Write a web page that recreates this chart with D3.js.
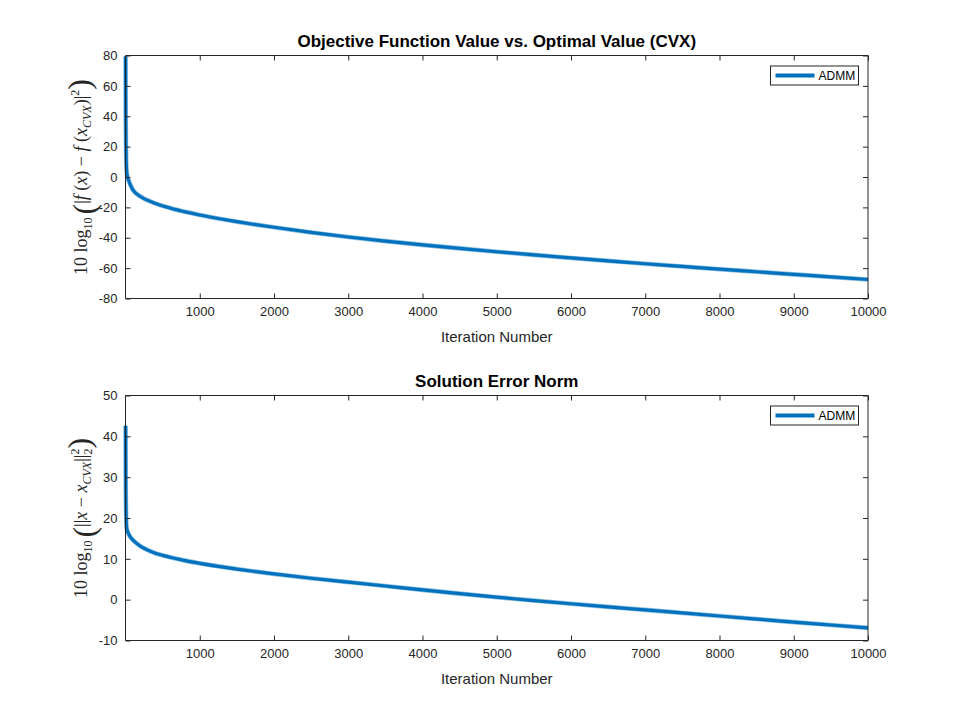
<!DOCTYPE html>
<html><head><meta charset="utf-8">
<script src="https://cdn.jsdelivr.net/npm/d3@7"></script>
<style>body{margin:0;background:#fff}svg{display:block}</style>
</head><body><svg id="c" width="960" height="720"></svg>
<script>
const iterations = [1,2,3,4,6,9,15,25,40,60,100,200,370,600,820,1000,1270,1500,1718,2000,2500,3000,3500,4000,4500,5000,5500,6000,6500,7000,7500,8000,8500,9000,9500,10000];
const objGap = [79.5,60,45,35,22,12,4,0.5,-2.0,-4.6,-8.5,-12.8,-16.8,-20.4,-23.1,-25.0,-27.5,-29.4,-31.1,-33.1,-36.5,-39.5,-42.2,-44.7,-47.0,-49.2,-51.3,-53.3,-55.2,-57.1,-58.9,-60.7,-62.4,-64.1,-65.8,-67.5];
const errIters = [1,2,3,4,6,9,15,30,60,100,200,370,600,820,1000,1270,1500,1718,2000,2500,3000,3500,4000,4500,5000,5500,6000,6500,7000,7500,8000,8500,9000,9500,10000];
const solErr = [42.6,36,31,27,23,20,17.6,16.6,15.5,14.6,13.1,11.6,10.4,9.5,8.9,8.1,7.5,6.95,6.3,5.25,4.3,3.35,2.4,1.48,0.6,-0.22,-1.0,-1.76,-2.5,-3.25,-4.0,-4.75,-5.5,-6.2,-6.9];
const xTicks = [1000,2000,3000,4000,5000,6000,7000,8000,9000,10000];
const yTicksTop = [-80,-60,-40,-20,0,20,40,60,80];
const yTicksBot = [-10,0,10,20,30,40,50];
const titles = ["Objective Function Value vs. Optimal Value (CVX)", "Solution Error Norm"];
const xLabel = "Iteration Number";
const legendLabel = "ADMM";

const svg = d3.select("#c");
const color = "#0072BD";
const L = 125.5, R = 868;
const numFmt = d => String(d);

function panel(top, bottom, yDomain, yTicks, xs, ys, title, ylabelFn) {
  const x = d3.scaleLinear().domain([0, 10000]).range([L, R]);
  const y = d3.scaleLinear().domain(yDomain).range([bottom, top]);
  const g = svg.append("g");
  g.append("rect").attr("x", L).attr("y", top).attr("width", R - L).attr("height", bottom - top).attr("fill", "#fff");
  const data = xs.map((d, i) => [d, ys[i]]);
  const line = d3.line().x(d => x(d[0])).y(d => y(d[1])).curve(d3.curveMonotoneX);
  g.append("path").datum(data).attr("d", line).attr("fill", "none")
    .attr("stroke", "#8fc0e6").attr("stroke-width", 4.6).attr("stroke-linejoin", "round");
  g.append("path").datum(data).attr("d", line).attr("fill", "none")
    .attr("stroke", color).attr("stroke-width", 3.2).attr("stroke-linejoin", "round");
  const ax = g.append("g").attr("transform", `translate(0,${bottom})`)
    .call(d3.axisBottom(x).tickValues(xTicks).tickSize(-5).tickPadding(8).tickFormat(numFmt));
  const axT = g.append("g").attr("transform", `translate(0,${top})`)
    .call(d3.axisTop(x).tickValues(xTicks).tickSize(-5).tickFormat(""));
  const ay = g.append("g").attr("transform", `translate(${L},0)`)
    .call(d3.axisLeft(y).tickValues(yTicks).tickSize(-5).tickPadding(8).tickFormat(numFmt));
  const ayR = g.append("g").attr("transform", `translate(${R},0)`)
    .call(d3.axisRight(y).tickValues(yTicks).tickSize(-5).tickFormat(""));
  [ax, axT, ay, ayR].forEach(a => {
    a.select(".domain").attr("stroke", "#262626").attr("stroke-width", 1);
    a.selectAll(".tick line").attr("stroke", "#262626");
    a.selectAll("text").attr("fill", "#262626").style("font-family", "Liberation Sans, Arial, sans-serif").style("font-size", "13px");
  });
  ax.select(".domain").attr("d", `M${L},0H${R}`);
  axT.select(".domain").attr("d", `M${L},0H${R}`);
  ay.select(".domain").attr("d", `M0,${top}V${bottom}`);
  ayR.select(".domain").attr("d", `M0,${top}V${bottom}`);
  svg.append("text").attr("x", (L + R) / 2).attr("y", top - 9).attr("text-anchor", "middle")
    .style("font-family", "Liberation Sans, Arial, sans-serif").style("font-size", "17px").style("font-weight", "bold")
    .attr("fill", "#000").text(title);
  svg.append("text").attr("x", (L + R) / 2).attr("y", bottom + 43).attr("text-anchor", "middle")
    .style("font-family", "Liberation Sans, Arial, sans-serif").style("font-size", "15px")
    .attr("fill", "#262626").text(xLabel);
  const yl = svg.append("text").attr("transform", `translate(87,${(top + bottom) / 2}) rotate(-90)`)
    .attr("text-anchor", "middle").style("font-family", "Liberation Serif, DejaVu Serif, serif")
    .style("font-size", "18px").attr("fill", "#262626");
  ylabelFn(yl);
  const lg = svg.append("g").attr("transform", `translate(770.5,${top + 10.5})`);
  lg.append("rect").attr("width", 88).attr("height", 19).attr("fill", "#fff").attr("stroke", "#262626").attr("stroke-width", 1);
  lg.append("line").attr("x1", 5).attr("x2", 44).attr("y1", 9.5).attr("y2", 9.5).attr("stroke", color).attr("stroke-width", 4);
  lg.append("text").attr("x", 48).attr("y", 14).style("font-family", "Liberation Sans, Arial, sans-serif")
    .style("font-size", "12px").attr("fill", "#000").text(legendLabel);
}

function t(sel, str, opts = {}) {
  const s = sel.append("tspan").text(str);
  if (opts.it) s.style("font-style", "italic");
  if (opts.size) s.style("font-size", opts.size + "px");
  if (opts.dy != null) s.attr("dy", opts.dy);
  if (opts.dx != null) s.attr("dx", opts.dx);
  return s;
}

panel(55.5, 298.5, [-80, 80], yTicksTop, iterations, objGap, titles[0], yl => {
  t(yl, "10 log");
  t(yl, "10", {size: 12, dy: 5});
  t(yl, "(", {size: 32, dx: 3, dy: 3});
  t(yl, "|", {size: 18, dy: -8});
  t(yl, "f", {it: true});
  t(yl, " (");
  t(yl, "x", {it: true});
  t(yl, ")  −  ");
  t(yl, "f", {it: true});
  t(yl, " (");
  t(yl, "x", {it: true});
  t(yl, "CVX", {it: true, size: 12, dy: 4});
  t(yl, ")|", {dy: -4});
  t(yl, "2", {size: 12, dy: -8});
  t(yl, ")", {size: 32, dy: 11});
});

panel(395.5, 640.5, [-10, 50], yTicksBot, errIters, solErr, titles[1], yl => {
  t(yl, "10 log");
  t(yl, "10", {size: 12, dy: 5});
  t(yl, "(", {size: 32, dx: 3, dy: 3});
  t(yl, "||", {size: 18, dy: -8});
  t(yl, "x", {it: true});
  t(yl, "  −  ");
  t(yl, "x", {it: true});
  t(yl, "CVX", {it: true, size: 12, dy: 4});
  t(yl, "||", {dy: -4});
  t(yl, "2", {size: 12, dy: -8});
  t(yl, "2", {size: 12, dx: -6, dy: 13});
  t(yl, ")", {size: 32, dy: -2});
});
</script></body></html>
